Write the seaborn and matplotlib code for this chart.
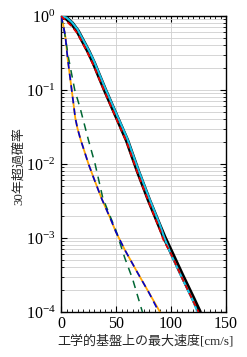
import numpy as np
import pandas as pd
import matplotlib
matplotlib.use("Agg")
import matplotlib.pyplot as plt
import matplotlib.ticker as mticker
import seaborn as sns

# ---- data ----
x_top = [0, 5, 10, 15, 20, 25, 30, 35, 40, 50, 60, 70, 80, 90, 94, 100, 110, 120, 126]
p_black = [1.0, 0.933, 0.794, 0.631, 0.457, 0.331, 0.229, 0.151, 0.100, 0.0457, 0.0209,
           0.00794, 0.00324, 0.00141, 0.00102, 0.00066, 0.000316, 0.000155, 0.0001]
x_red = [0, 5, 10, 15, 20, 25, 30, 35, 40, 50, 60, 70, 80, 90, 93, 100, 110, 120, 125]
p_red = [1.0, 0.85, 0.72, 0.58, 0.42, 0.30, 0.208, 0.138, 0.092, 0.042, 0.0192,
         0.0073, 0.0030, 0.00128, 0.00095, 0.00061, 0.00029, 0.000142, 0.0001]
x_cyan = [0, 5, 10, 15, 20, 25, 30, 35, 40, 50, 60, 70, 80, 90, 94, 100, 110, 120, 124]
p_cyan = [1.0, 0.95, 0.82, 0.66, 0.48, 0.35, 0.245, 0.162, 0.107, 0.049, 0.0225,
          0.0086, 0.0035, 0.00150, 0.00100, 0.00060, 0.00029, 0.000142, 0.0001]
x_orange = [0, 2, 4, 6, 8, 10, 13, 15, 18, 20, 25, 30, 37, 45, 50, 58, 70, 80, 90]
p_orange = [1.0, 0.759, 0.525, 0.269, 0.158, 0.0933, 0.0417, 0.0302, 0.0209, 0.0170,
            0.0100, 0.00631, 0.00339, 0.00182, 0.00120, 0.000692, 0.000331, 0.000182, 0.0001]
x_blue = [0, 2, 4, 6, 8, 10, 13, 15, 18, 20, 25, 30, 37, 45, 50, 58, 70, 80, 89]
p_blue = [1.0, 0.759, 0.525, 0.269, 0.158, 0.0933, 0.0417, 0.0302, 0.0209, 0.0170,
          0.0100, 0.00631, 0.00339, 0.00182, 0.00120, 0.000692, 0.000331, 0.000182, 0.0001]
x_green = [0, 3, 7, 12.5, 17.5, 25, 31, 38, 45, 50, 58, 65, 74]
p_green = [1.0, 0.631, 0.263, 0.1, 0.0562, 0.0209, 0.01, 0.00347, 0.00191, 0.00126,
           0.000537, 0.000282, 0.0001]

x_ticks = [0, 50, 100, 150]
x_label = "工学的基盤上の最大速度[cm/s]"
y_label = "30年超過確率"

sns.set_style("ticks")
plt.rcParams['font.family'] = ['Liberation Serif', 'Noto Sans CJK JP', 'DejaVu Sans']
plt.rcParams['mathtext.fontset'] = 'stix'

fig = plt.figure(figsize=(2.47, 3.57), dpi=100)
ax = fig.add_axes([61/247, 1-312/357, (226-61)/247, (312-16)/357])

sns.lineplot(x=x_top, y=p_black, ax=ax, color='black', lw=3.2, sort=False, zorder=3)
sns.lineplot(x=x_cyan, y=p_cyan, ax=ax, color='#19c3e6', lw=1.5, sort=False, zorder=4)
sns.lineplot(x=x_red, y=p_red, ax=ax, color='#e00000', lw=1.3, sort=False, zorder=5,
             linestyle=(0, (3, 2)))
sns.lineplot(x=x_orange, y=p_orange, ax=ax, color='#ffa500', lw=1.3, sort=False, zorder=3)
sns.lineplot(x=x_blue, y=p_blue, ax=ax, color='#0000cc', lw=1.2, sort=False, zorder=4,
             linestyle=(0, (4, 3)))
sns.lineplot(x=x_green, y=p_green, ax=ax, color='#006633', lw=1.1, sort=False, zorder=3,
             linestyle=(0, (5, 4)))

ax.set_yscale('log')
ax.set_xlim(0, 150)
ax.set_ylim(1e-4, 1)
ax.set_xticks(x_ticks)
ax.xaxis.set_minor_locator(mticker.MultipleLocator(5))
ax.yaxis.set_major_locator(mticker.LogLocator(base=10, numticks=10))
ax.yaxis.set_minor_locator(mticker.LogLocator(base=10, subs=np.arange(2, 10), numticks=20))
ax.yaxis.set_major_formatter(mticker.LogFormatterMathtext())
ax.yaxis.set_minor_formatter(mticker.NullFormatter())

ax.grid(True, which='major', axis='x', color='#cfcfcf', lw=0.6)
ax.grid(True, which='both', axis='y', color='#cfcfcf', lw=0.6)
ax.set_axisbelow(True)

ax.tick_params(which='both', direction='in', top=True, right=True, labelsize=11.5,
               colors='black')
ax.tick_params(axis='x', pad=3)
ax.tick_params(axis='y', pad=4)
ax.tick_params(which='major', length=4, width=0.8)
ax.tick_params(which='minor', length=2, width=0.6)
for s in ax.spines.values():
    s.set_color('black')
    s.set_linewidth(1.0)

ax.set_xlabel(x_label, fontsize=9.4)
ax.xaxis.set_label_coords((146 - 61) / 165, -(335 - 312) / 296)
ax.set_ylabel(y_label, fontsize=9.4)
ax.yaxis.set_label_coords(-(61 - 25) / 165, (312 - 166) / 296)

fig.savefig('out.png', dpi=100)
